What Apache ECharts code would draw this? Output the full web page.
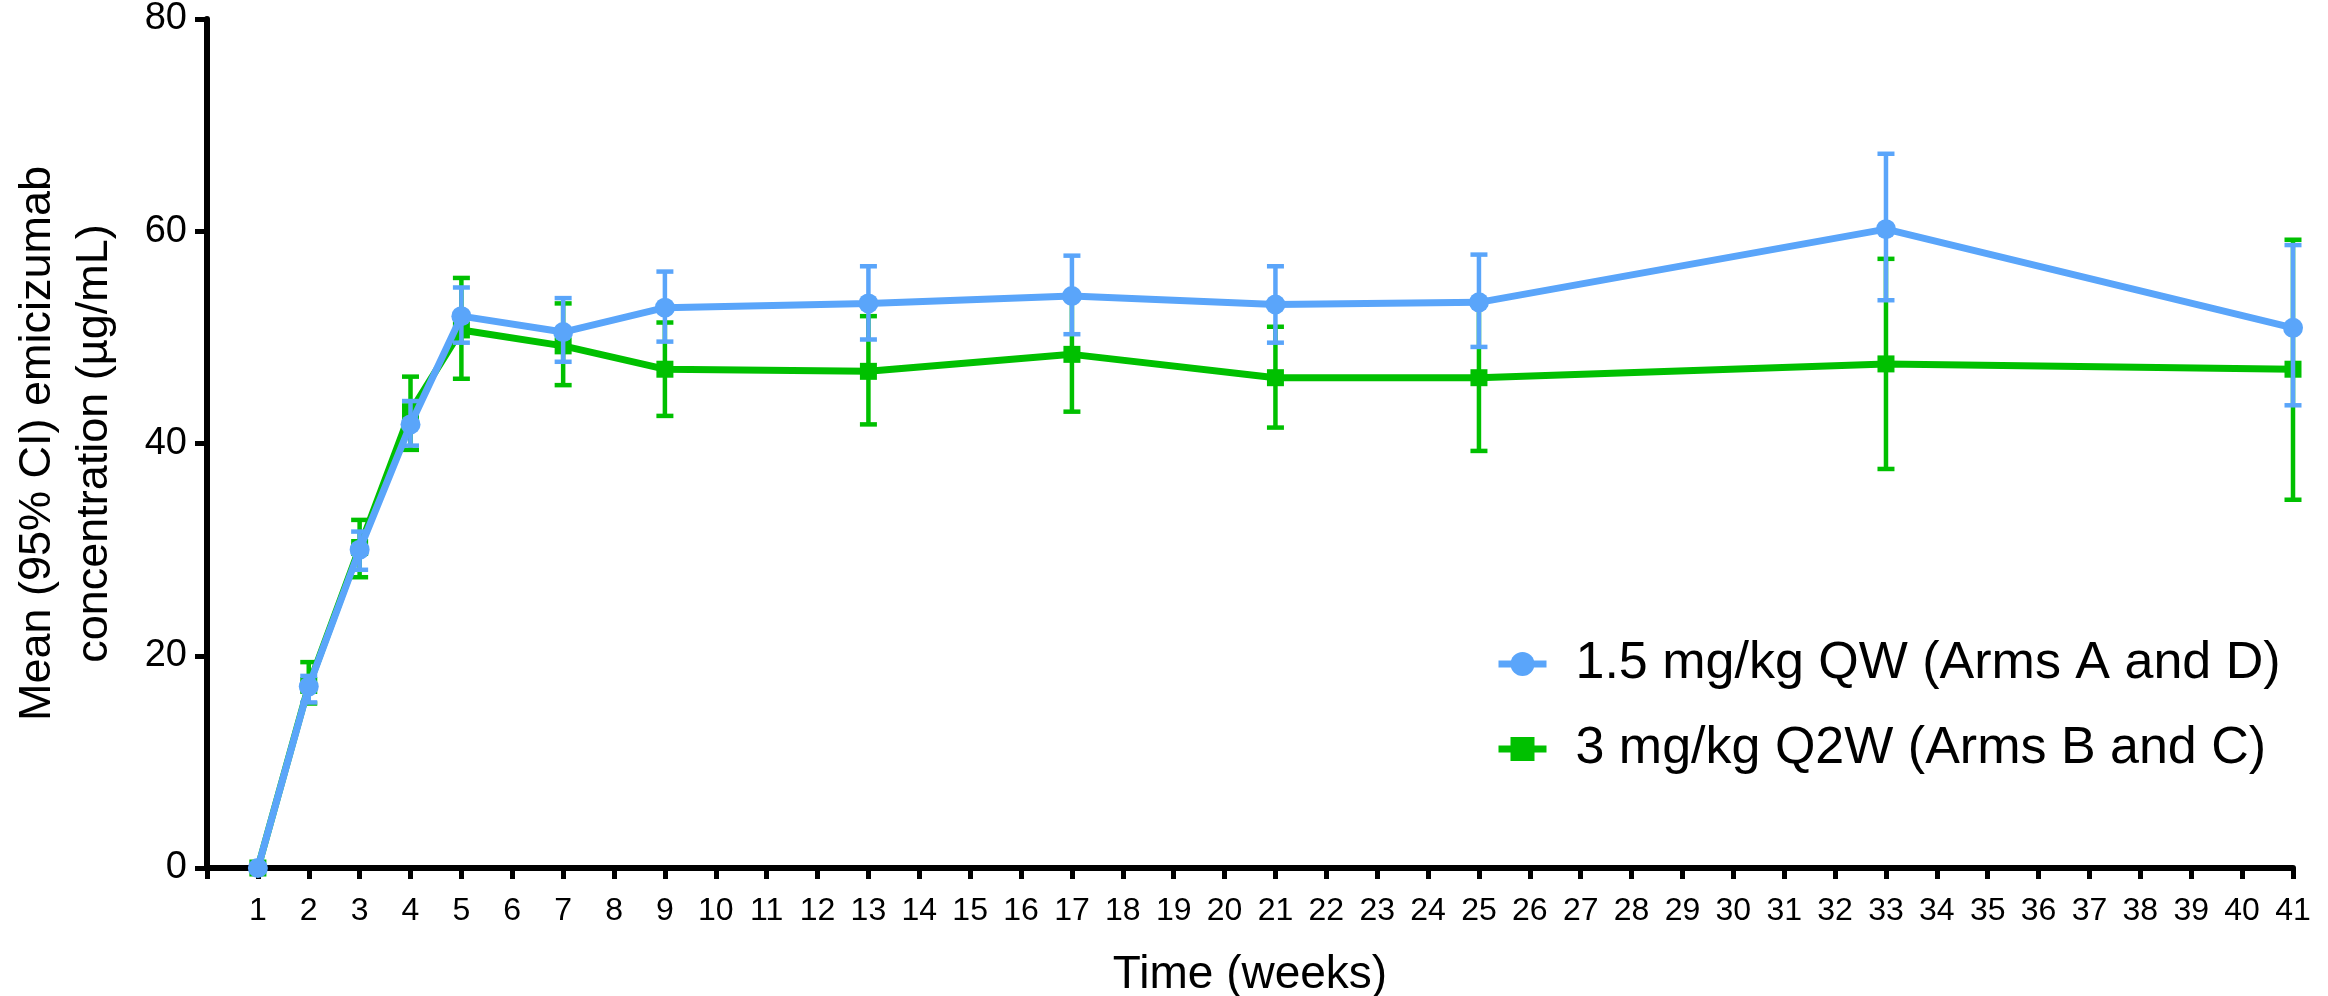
<!DOCTYPE html>
<html>
<head>
<meta charset="utf-8">
<script src="https://cdn.jsdelivr.net/npm/echarts@6/dist/echarts.min.js"></script>
<style>
html,body{margin:0;padding:0;background:#fff;}
#chart{width:2328px;height:996px;}
</style>
</head>
<body>
<div id="chart"></div>
<script>
// ---- data ----
const weeks = [1, 2, 3, 4, 5, 7, 9, 13, 17, 21, 25, 33, 41];
const blueName = '1.5 mg/kg QW (Arms A and D)';
const blueMean = [0, 17.1, 30.0, 41.8, 52.0, 50.5, 52.8, 53.2, 53.9, 53.1, 53.3, 60.2, 50.9];
const blueLow  = [0, 15.6, 28.1, 39.8, 49.5, 47.7, 49.6, 49.8, 50.3, 49.5, 49.1, 53.5, 43.6];
const blueHigh = [0, 18.1, 31.7, 44.0, 54.7, 53.7, 56.2, 56.7, 57.7, 56.7, 57.8, 67.3, 58.7];
const greenName = '3 mg/kg Q2W (Arms B and C)';
const greenMean = [0, 17.2, 30.2, 43.0, 50.7, 49.2, 47.0, 46.8, 48.4, 46.2, 46.2, 47.5, 47.0];
const greenLow  = [0, 15.5, 27.4, 39.4, 46.1, 45.5, 42.6, 41.8, 43.0, 41.5, 39.3, 37.6, 34.7];
const greenHigh = [0, 19.4, 32.8, 46.3, 55.6, 53.2, 51.4, 52.0, 53.7, 51.0, 53.1, 57.4, 59.2];
const yTicks = [0, 20, 40, 60, 80];
const xMin = 0, xMax = 41;
const xTitle = 'Time (weeks)';
const yTitle = 'Mean (95% CI) emicizumab\nconcentration (µg/mL)';

const BLUE = '#5aa5fa';
const GREEN = '#00c000';
const FONT = 'Liberation Sans, Arial, sans-serif';

function errRender(color) {
  return function (params, api) {
    const x = api.value(0), lo = api.value(1), hi = api.value(2);
    if (lo === hi) return null;
    const p1 = api.coord([x, hi]);
    const p2 = api.coord([x, lo]);
    const w = 8.5;
    const st = { stroke: color, lineWidth: 4.5 };
    return {
      type: 'group',
      children: [
        { type: 'line', shape: { x1: p1[0], y1: p1[1], x2: p2[0], y2: p2[1] }, style: st },
        { type: 'line', shape: { x1: p1[0] - w, y1: p1[1], x2: p1[0] + w, y2: p1[1] }, style: st },
        { type: 'line', shape: { x1: p2[0] - w, y1: p2[1], x2: p2[0] + w, y2: p2[1] }, style: st }
      ]
    };
  };
}

const chart = echarts.init(document.getElementById('chart'));
chart.setOption({
  animation: false,
  backgroundColor: '#fff',
  grid: { left: 207, right: 35, top: 19, bottom: 128, containLabel: false, outerBoundsMode: 'none' },
  legend: {
    data: [blueName, greenName],
    orient: 'vertical',
    left: 1490,
    top: 633,
    itemWidth: 48,
    itemHeight: 30,
    itemGap: 33,
    lineStyle: { width: 7 },
    textStyle: { fontFamily: FONT, fontSize: 52, color: '#000', padding: [0, 0, 0, 24] }
  },
  xAxis: {
    type: 'value',
    min: xMin,
    max: xMax,
    interval: 1,
    name: xTitle,
    nameLocation: 'middle',
    nameGap: 84,
    nameTextStyle: { fontFamily: FONT, fontSize: 46, color: '#000' },
    splitLine: { show: false },
    axisLine: { show: true, onZero: false, lineStyle: { color: '#000', width: 6 } },
    axisTick: { show: true, length: 11, lineStyle: { color: '#000', width: 5 } },
    axisLabel: {
      fontFamily: FONT, fontSize: 32, color: '#000', margin: 27,
      formatter: function (v) { return v === 0 ? '' : String(v); }
    }
  },
  yAxis: {
    type: 'value',
    min: yTicks[0],
    max: yTicks[yTicks.length - 1],
    interval: yTicks[1] - yTicks[0],
    name: yTitle,
    nameLocation: 'middle',
    nameGap: 84,
    nameRotate: 90,
    nameTextStyle: { fontFamily: FONT, fontSize: 45, color: '#000', lineHeight: 57 },
    splitLine: { show: false },
    axisLine: { show: true, onZero: false, lineStyle: { color: '#000', width: 6 } },
    axisTick: { show: true, length: 12, lineStyle: { color: '#000', width: 5 } },
    axisLabel: { fontFamily: FONT, fontSize: 38, color: '#000', margin: 20 }
  },
  series: [
    {
      name: 'greenErr',
      type: 'custom',
      renderItem: errRender(GREEN),
      data: weeks.map((w, i) => [w, greenLow[i], greenHigh[i]]),
      encode: { x: 0, y: [1, 2] },
      z: 1,
      silent: true
    },
    {
      name: greenName,
      type: 'line',
      data: weeks.map((w, i) => [w, greenMean[i]]),
      symbol: 'rect',
      symbolSize: 17,
      itemStyle: { color: GREEN },
      lineStyle: { color: GREEN, width: 7 },
      z: 2
    },
    {
      name: 'blueErr',
      type: 'custom',
      renderItem: errRender(BLUE),
      data: weeks.map((w, i) => [w, blueLow[i], blueHigh[i]]),
      encode: { x: 0, y: [1, 2] },
      z: 3,
      silent: true
    },
    {
      name: blueName,
      type: 'line',
      data: weeks.map((w, i) => [w, blueMean[i]]),
      symbol: 'circle',
      symbolSize: 20,
      itemStyle: { color: BLUE },
      lineStyle: { color: BLUE, width: 7 },
      z: 4
    }
  ]
});
</script>
</body>
</html>
